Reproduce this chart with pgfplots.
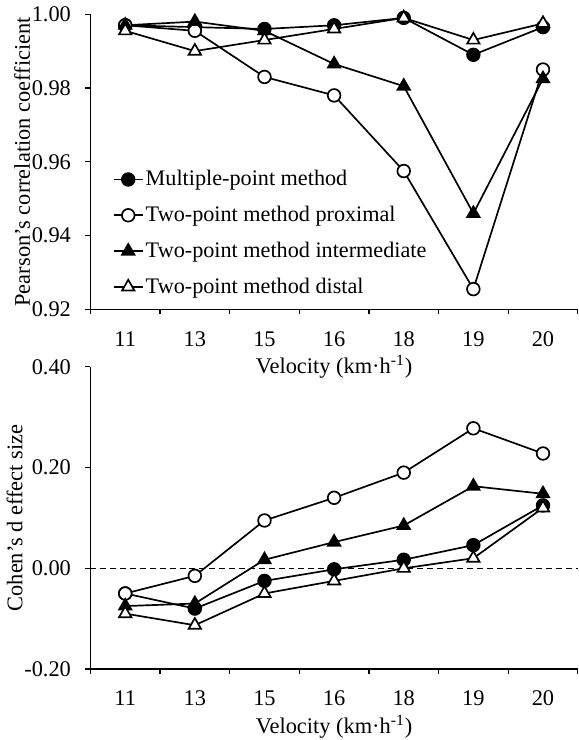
\documentclass[border=0pt]{standalone}
\usepackage{fontspec}
\setmainfont{Liberation Serif}
\usepackage{pgfplots}
\pgfplotsset{compat=1.18}

\pgfplotsset{
  panel/.style={
    scale only axis, width=246pt,
    axis x line*=bottom, axis y line*=left,
    axis line style={-, line width=0.6pt},
    xmin=-0.5, xmax=6.5,
    xtick={0,...,6}, xticklabels={11,13,15,16,18,19,20},
    major x tick style={draw=none},
    minor xtick={-0.5,0.5,...,6.5},
    tick align=outside,
    major tick length=2.5pt, minor tick length=2.5pt,
    tick style={line width=0.6pt, black},
    /pgf/number format/assume math mode=true,
    tick label style={font=\fontsize{11.3}{13}\selectfont},
    label style={font=\fontsize{11.3}{13}\selectfont},
    yticklabel style={xshift=-3.8pt, /pgf/number format/.cd, fixed, fixed zerofill, precision=2},
    xticklabel style={yshift=-5pt},
    xlabel={Velocity (km·h\textsuperscript{-1})},
    xlabel style={inner ysep=1pt, yshift=0pt},
    ylabel style={yshift=-6pt},
    clip=false,
  },
  mp/.style={black, line width=0.85pt, mark=*, mark size=3.2pt, mark options={fill=black, solid}},
  prox/.style={black, line width=0.85pt, mark=*, mark size=3.2pt, mark options={fill=white, solid}},
  inter/.style={black, line width=0.85pt, mark=triangle*, mark size=3.6pt, mark options={fill=black, solid}},
  dist/.style={black, line width=0.85pt, mark=triangle*, mark size=3.6pt, mark options={fill=white, solid}},
}

\begin{document}
\begin{tikzpicture}
\begin{axis}[panel, height=149pt,
    ymin=0.92, ymax=1.00, ytick={0.92,0.94,...,1.001},
    ylabel={Pearson's correlation coefficient},
    legend style={draw=none, fill=none, at={(0.045,0.486)}, anchor=north west,
      font=\fontsize{11.2}{13}\selectfont, row sep=4.8pt, inner sep=0pt,
      nodes={inner xsep=1pt}},
    legend cell align=left,
    legend image code/.code={\draw[mark repeat=2, mark phase=2] plot coordinates {(0cm,0cm) (0.26cm,0cm) (0.52cm,0cm)};},
]
\addplot[mp] coordinates {(0,0.997) (1,0.9965) (2,0.996) (3,0.997) (4,0.999) (5,0.989) (6,0.9965)};
\addplot[prox] coordinates {(0,0.997) (1,0.9955) (2,0.983) (3,0.978) (4,0.9575) (5,0.9255) (6,0.985)};
\addplot[inter] coordinates {(0,0.997) (1,0.998) (2,0.9955) (3,0.9865) (4,0.9805) (5,0.946) (6,0.9825)};
\addplot[dist] coordinates {(0,0.9955) (1,0.990) (2,0.993) (3,0.996) (4,0.999) (5,0.993) (6,0.9975)};
\legend{Multiple-point method, Two-point method proximal, Two-point method intermediate, Two-point method distal}
\end{axis}

\begin{axis}[panel, height=152.5pt, at={(0pt,-181.5pt)},
    ymin=-0.2, ymax=0.4, ytick={-0.2,0,0.2,0.4},
    ylabel={Cohen's d effect size},
]
\addplot[black, line width=0.5pt, dash pattern=on 3pt off 2pt, forget plot] coordinates {(-0.5,0) (6.5,0)};
\addplot[mp] coordinates {(0,-0.05) (1,-0.08) (2,-0.025) (3,-0.002) (4,0.017) (5,0.046) (6,0.125)};
\addplot[prox] coordinates {(0,-0.05) (1,-0.015) (2,0.095) (3,0.14) (4,0.19) (5,0.278) (6,0.228)};
\addplot[inter] coordinates {(0,-0.075) (1,-0.07) (2,0.017) (3,0.052) (4,0.085) (5,0.163) (6,0.148)};
\addplot[dist] coordinates {(0,-0.09) (1,-0.113) (2,-0.05) (3,-0.025) (4,0.0) (5,0.02) (6,0.12)};
\end{axis}
\end{tikzpicture}
\end{document}
